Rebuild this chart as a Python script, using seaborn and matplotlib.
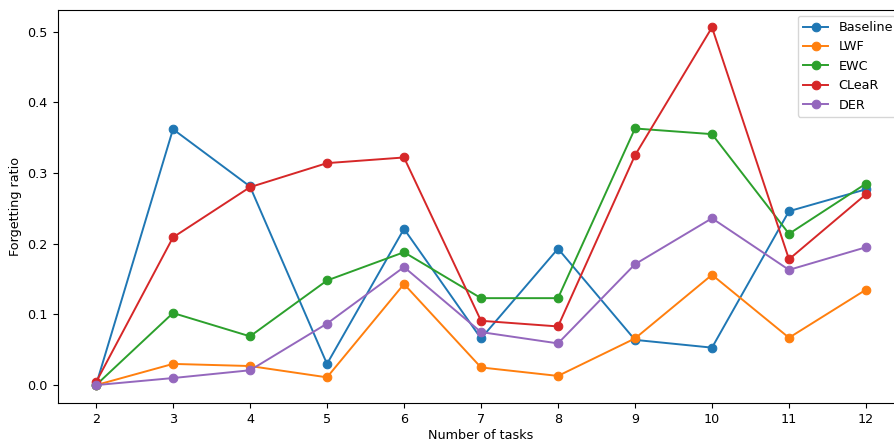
import pandas as pd
import seaborn as sns
import matplotlib.pyplot as plt

tasks = [2, 3, 4, 5, 6, 7, 8, 9, 10, 11, 12]
baseline = [0.0, 0.362, 0.281, 0.030, 0.221, 0.066, 0.193, 0.064, 0.053, 0.246, 0.277]
lwf = [0.0, 0.030, 0.027, 0.011, 0.143, 0.025, 0.013, 0.066, 0.156, 0.067, 0.135]
ewc = [0.0, 0.102, 0.069, 0.148, 0.188, 0.123, 0.123, 0.363, 0.355, 0.214, 0.285]
clear = [0.004, 0.209, 0.280, 0.314, 0.322, 0.091, 0.083, 0.325, 0.506, 0.178, 0.270]
der = [0.0, 0.010, 0.021, 0.087, 0.167, 0.075, 0.059, 0.171, 0.236, 0.163, 0.195]

methods = {"Baseline": baseline, "LWF": lwf, "EWC": ewc, "CLeaR": clear, "DER": der}
df = pd.concat(
    [pd.DataFrame({"tasks": tasks, "ratio": v, "method": k}) for k, v in methods.items()],
    ignore_index=True,
)

plt.rcParams["font.size"] = 9.2

fig = plt.figure(figsize=(8.94, 4.41), dpi=100)
ax = fig.add_axes([57.5 / 894, 38 / 441, 847 / 894, 393.5 / 441])
sns.lineplot(data=df, x="tasks", y="ratio", hue="method", marker="o",
             palette="tab10", markeredgecolor=None, markersize=6.2, linewidth=1.4, ax=ax)

ax.set_xticks(tasks)
ax.set_xlim(1.5, 12.5)
ax.set_xlabel("Number of tasks", labelpad=2.5)
ax.set_ylabel("Forgetting ratio")
ax.legend(loc="upper right", title=None)

fig.savefig("out.png", dpi=100)
